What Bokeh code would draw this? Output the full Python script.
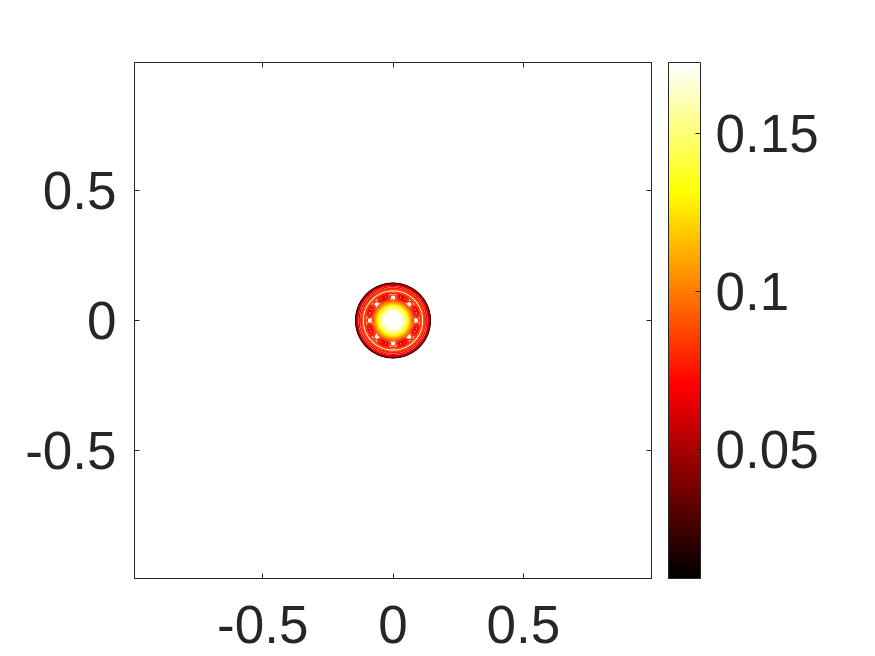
import numpy as np
from bokeh.plotting import figure
from bokeh.models import (LinearAxis, FixedTicker, ColorBar, LinearColorMapper,
                          Range1d, CustomJSTickFormatter)
from bokeh.embed import file_html
from bokeh.resources import INLINE

# ---------------- data ----------------
x_ticks = [-0.5, 0.0, 0.5]
x_tick_labels = ["-0.5", "0", "0.5"]
y_ticks = [-0.5, 0.0, 0.5]
y_tick_labels = ["-0.5", "0", "0.5"]
cb_ticks = [0.05, 0.1, 0.15]
cb_tick_labels = ["0.05", "0.1", "0.15"]
axis_limits = [-0.992, 0.992]
value_limits = [0.0094, 0.1723]

# radial profile of the field (radius, value)
profile_r = [0.000, 0.035, 0.048, 0.058, 0.067, 0.075, 0.083, 0.091, 0.099,
             0.106, 0.112, 0.118, 0.124, 0.130, 0.135, 0.139, 0.142, 0.145, 0.200]
profile_v = [0.172, 0.166, 0.150, 0.128, 0.108, 0.092, 0.080, 0.071, 0.070,
             0.080, 0.092, 0.088, 0.074, 0.068, 0.066, 0.045, 0.018, 0.000, 0.000]
ring_radius = 0.093
ring_width = 0.009
ring_amplitude = 0.016
ring_order = 8
n_levels = 26

# ---------------- colormap (MATLAB "hot") ----------------
def hot_palette(n=256):
    cols = []
    for i in range(n):
        t = i / (n - 1)
        r = min(1.0, t / 0.375)
        g = min(1.0, max(0.0, (t - 0.375) / 0.375))
        b = min(1.0, max(0.0, (t - 0.75) / 0.25))
        cols.append("#%02x%02x%02x" % (int(round(r * 255)), int(round(g * 255)), int(round(b * 255))))
    return cols

HOT = hot_palette()

# ---------------- field ----------------
g = np.linspace(-0.2, 0.2, 321)
X, Y = np.meshgrid(g, g)
R = np.hypot(X, Y)
TH = np.arctan2(Y, X)
Z = np.interp(R, profile_r, profile_v)
Z = Z + ring_amplitude * np.cos(ring_order * TH) * np.exp(-((R - ring_radius) / ring_width) ** 2)

levels = np.linspace(value_limits[0] + 0.002, value_limits[1] - 0.003, n_levels)
def level_color(v):
    t = (v - value_limits[0]) / (value_limits[1] - value_limits[0])
    return HOT[int(np.clip(round(t * 255), 0, 255))]
line_colors = [level_color(v) for v in levels]

# ---------------- figure ----------------
TXT = "#262626"
FONT = "Liberation Sans"
FS = "53px"

def fmt(tv, tl):
    return CustomJSTickFormatter(args=dict(tv=tv, tl=tl), code="""
        for (let i = 0; i < tv.length; i++) {
            if (Math.abs(tv[i] - tick) < 1e-9) return tl[i];
        }
        return '';
    """)

p = figure(frame_width=517, frame_height=516,
           x_range=Range1d(*axis_limits), y_range=Range1d(*axis_limits),
           output_backend="svg", toolbar_location=None,
           x_axis_location=None, y_axis_location=None,
           min_border_left=134, min_border_top=62, min_border_right=0, min_border_bottom=78,
           background_fill_color="white", border_fill_color="white")
p.grid.visible = False
p.outline_line_color = TXT
p.outline_line_width = 1

p.contour(g, g, Z, levels, line_color=line_colors, line_width=1.4)

def make_axis(ticks, labels, show_labels, standoff):
    ax = LinearAxis(ticker=FixedTicker(ticks=ticks), formatter=fmt(ticks, labels if show_labels else [""] * len(labels)))
    ax.axis_line_color = TXT
    ax.major_tick_line_color = TXT
    ax.major_tick_in = 5
    ax.major_tick_out = 0
    ax.minor_tick_line_color = None
    ax.major_label_text_font = FONT
    ax.major_label_text_color = TXT
    ax.major_label_text_font_size = FS if show_labels else "0px"
    ax.major_label_text_line_height = 1.0
    ax.major_label_standoff = standoff
    return ax

p.add_layout(make_axis(x_ticks, x_tick_labels, True, 27), "below")
p.add_layout(make_axis(y_ticks, y_tick_labels, True, 18), "left")
p.add_layout(make_axis(x_ticks, x_tick_labels, False, 0), "above")
p.add_layout(make_axis(y_ticks, y_tick_labels, False, 0), "right")

# invisible spacer between the frame and the colour bar
spacer = LinearAxis(ticker=FixedTicker(ticks=y_ticks), formatter=fmt(y_ticks, [""] * len(y_ticks)))
spacer.axis_line_color = None
spacer.major_tick_line_color = None
spacer.minor_tick_line_color = None
spacer.major_tick_in = 0
spacer.major_tick_out = 17
spacer.major_label_standoff = 0
spacer.major_label_text_font_size = "0px"
p.add_layout(spacer, "right")

mapper = LinearColorMapper(palette=HOT, low=value_limits[0], high=value_limits[1])
cb = ColorBar(color_mapper=mapper, ticker=FixedTicker(ticks=cb_ticks),
              formatter=fmt(cb_ticks, cb_tick_labels),
              width=32, height=516, padding=0, margin=0, location=(0, 0),
              bar_line_color=TXT, major_tick_line_color=TXT,
              major_tick_in=5, major_tick_out=0, minor_tick_line_color=None,
              major_label_text_font=FONT, major_label_text_font_size=FS,
              major_label_text_color=TXT, label_standoff=15,
              background_fill_color=None, border_line_color=None)
p.add_layout(cb, "right")

open("out.html", "w").write(file_html(p, INLINE))
